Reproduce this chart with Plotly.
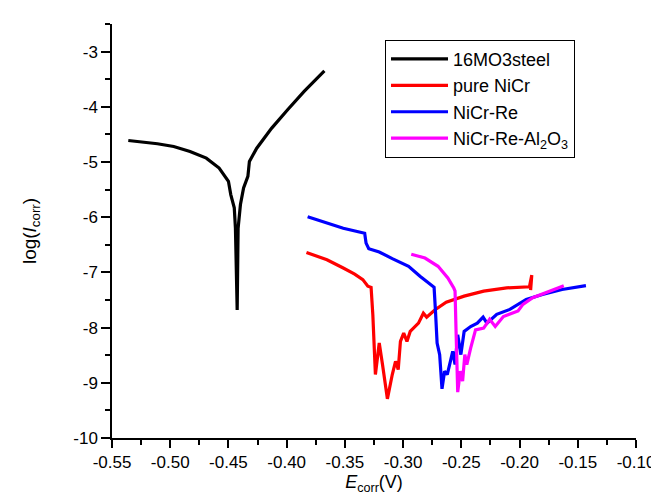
import plotly.graph_objects as go

# ---- data ----
steel_E = [-0.536, -0.511, -0.497, -0.483, -0.469, -0.458, -0.450, -0.448, -0.445, -0.444, -0.4425,
           -0.4417, -0.4397, -0.437, -0.4333, -0.432, -0.4257, -0.413, -0.399, -0.385, -0.3676]
steel_I = [-4.61, -4.67, -4.72, -4.81, -4.93, -5.11, -5.35, -5.59, -5.83, -6.20, -7.68,
           -6.20, -5.77, -5.47, -5.26, -4.99, -4.75, -4.39, -4.05, -3.72, -3.35]

nicr_E = [-0.383, -0.3654, -0.3514, -0.3416, -0.3346, -0.3303, -0.3275, -0.326, -0.3238, -0.3205,
          -0.3177, -0.3135, -0.3093, -0.3065, -0.3042, -0.3023, -0.2995, -0.2967, -0.2939, -0.2868,
          -0.2826, -0.2798, -0.2728, -0.2630, -0.2476, -0.2308, -0.2111, -0.1915, -0.1895, -0.1905]
nicr_I = [-6.64, -6.77, -6.92, -7.03, -7.13, -7.25, -7.27, -7.77, -8.85, -8.28,
          -8.67, -9.29, -8.85, -8.61, -8.76, -8.25, -8.10, -8.25, -8.07, -7.92,
          -7.74, -7.81, -7.68, -7.54, -7.43, -7.34, -7.28, -7.26, -7.05, -7.32]

nicrre_E = [-0.382, -0.3514, -0.333, -0.3318, -0.3295, -0.3205, -0.3093, -0.2953, -0.2855, -0.2756,
            -0.2734, -0.2722, -0.2708, -0.2686, -0.2666, -0.2644, -0.2621, -0.2594, -0.2574, -0.2554,
            -0.2531, -0.2504, -0.2476, -0.2420, -0.2363, -0.2313, -0.2280, -0.2196, -0.2083, -0.1943,
            -0.1803, -0.1635, -0.143]
nicrre_I = [-5.99, -6.20, -6.29, -6.47, -6.57, -6.63, -6.75, -6.89, -7.07, -7.22,
            -7.27, -7.70, -8.28, -8.49, -9.11, -8.79, -8.85, -8.61, -8.43, -8.67,
            -8.13, -8.49, -8.07, -7.98, -7.92, -7.81, -7.92, -7.76, -7.67, -7.49,
            -7.40, -7.31, -7.24]

nicrreal_E = [-0.293, -0.2812, -0.27, -0.2616, -0.2565, -0.2554, -0.2546, -0.2531, -0.2509, -0.2489,
              -0.2470, -0.2453, -0.2420, -0.2378, -0.2308, -0.2257, -0.2209, -0.2139, -0.2013, -0.1971,
              -0.1887, -0.1747, -0.1620]
nicrreal_I = [-6.67, -6.74, -6.89, -7.10, -7.28, -7.34, -8.01, -9.17, -8.79, -8.97,
              -8.49, -8.67, -8.37, -8.04, -8.01, -7.85, -7.98, -7.80, -7.70, -7.58,
              -7.46, -7.34, -7.24]

series_names = ["16MO3steel", "pure NiCr", "NiCr-Re", "NiCr-Re-Al<sub>2</sub>O<sub>3</sub>"]
series_colors = ["#000000", "#ff0000", "#0000ff", "#ff00ff"]

x_tickvals = [-0.55, -0.50, -0.45, -0.40, -0.35, -0.30, -0.25, -0.20, -0.15, -0.10]
x_ticktext = ["-0.55", "-0.50", "-0.45", "-0.40", "-0.35", "-0.30", "-0.25", "-0.20", "-0.15", "-0.10"]
y_tickvals = [-10, -9, -8, -7, -6, -5, -4, -3]
y_ticktext = ["-10", "-9", "-8", "-7", "-6", "-5", "-4", "-3"]

# ---- figure ----
fig = go.Figure()
for E, I, name, col in zip([steel_E, nicr_E, nicrre_E, nicrreal_E],
                           [steel_I, nicr_I, nicrre_I, nicrreal_I],
                           series_names, series_colors):
    fig.add_trace(go.Scatter(x=E, y=I, mode="lines", name=name,
                             line=dict(color=col, width=3.2)))

FAM = "Liberation Sans, Arial, sans-serif"
fig.update_layout(
    width=659, height=494,
    margin=dict(l=104, r=20, t=16, b=64),
    paper_bgcolor="white", plot_bgcolor="white",
    font=dict(family=FAM, size=17, color="#000000"),
    showlegend=True,
    legend=dict(x=0.521, y=0.962, xanchor="left", yanchor="top",
                bgcolor="white", bordercolor="#000000", borderwidth=1,
                font=dict(family=FAM, size=18, color="#000000"),
                tracegroupgap=0, itemwidth=57),
    xaxis=dict(range=[-0.55, -0.10], tickvals=x_tickvals, ticktext=x_ticktext,
               tickfont=dict(size=17),
               showgrid=False, zeroline=False, showline=True, linecolor="#000000", linewidth=1.5,
               ticks="outside", ticklen=8, tickwidth=1.5, tickcolor="#000000",
               minor=dict(dtick=0.025, tick0=-0.55, ticks="outside", ticklen=5, tickwidth=1.5, tickcolor="#000000"),
               title=dict(text="<i>E</i><sub>corr</sub>(V)", font=dict(size=18), standoff=0)),
    yaxis=dict(range=[-10, -2.5], tickvals=y_tickvals, ticktext=y_ticktext,
               tickfont=dict(size=17),
               showgrid=False, zeroline=False, showline=True, linecolor="#000000", linewidth=1.5,
               ticks="outside", ticklen=9, tickwidth=1.5, tickcolor="#000000",
               minor=dict(dtick=0.5, tick0=-10, ticks="outside", ticklen=5, tickwidth=1.5, tickcolor="#000000"),
               title=dict(text="log(<i>I</i><sub>corr</sub>)", font=dict(size=19), standoff=32)),
)

fig.write_html("out.html")
